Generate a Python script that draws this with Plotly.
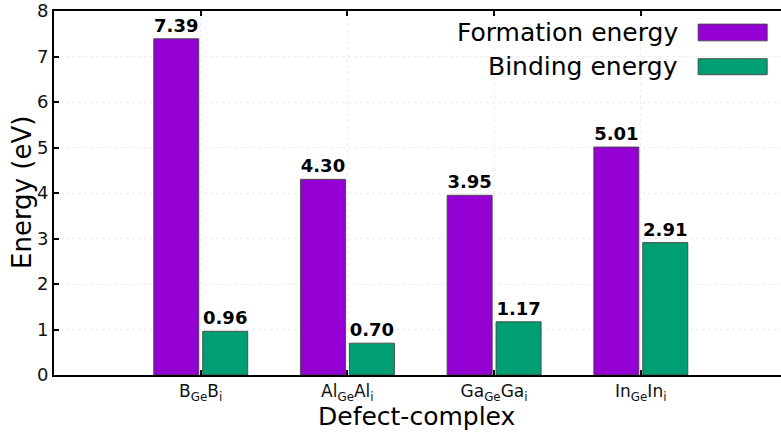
import plotly.graph_objects as go

categories = ["B<sub>Ge</sub>B<sub>i</sub>", "Al<sub>Ge</sub>Al<sub>i</sub>",
              "Ga<sub>Ge</sub>Ga<sub>i</sub>", "In<sub>Ge</sub>In<sub>i</sub>"]
formation_energy = [7.39, 4.30, 3.95, 5.01]
binding_energy = [0.96, 0.70, 1.17, 2.91]
y_ticks = [0, 1, 2, 3, 4, 5, 6, 7, 8]

PURPLE = "#9400D3"
GREEN = "#009E73"
FONT = "DejaVu Sans"

x_pos = list(range(len(categories)))

fig = go.Figure()
fig.add_trace(go.Bar(
    x=x_pos, y=formation_energy, name="Formation energy",
    width=0.307, offset=-0.32,
    marker=dict(color=PURPLE, line=dict(color="rgba(70,70,70,0.9)", width=1)),
    texttemplate="<b>%{y:.2f}</b>", textposition="outside",
    textfont=dict(family=FONT, size=18, color="black"),
    cliponaxis=False,
))
fig.add_trace(go.Bar(
    x=x_pos, y=binding_energy, name="Binding energy",
    width=0.307, offset=0.0136,
    marker=dict(color=GREEN, line=dict(color="rgba(70,70,70,0.9)", width=1)),
    texttemplate="<b>%{y:.2f}</b>", textposition="outside",
    textfont=dict(family=FONT, size=18, color="black"),
    cliponaxis=False,
))

fig.update_layout(
    width=781, height=433,
    margin=dict(l=54, r=0, t=9, b=58),
    paper_bgcolor="white", plot_bgcolor="white",
    showlegend=False,
    font=dict(family=FONT, color="black"),
    xaxis=dict(
        range=[-1, 3.956],
        tickmode="array", tickvals=x_pos, ticktext=categories,
        tickfont=dict(family=FONT, size=17, color="#111"),
        showline=True, linecolor="black", linewidth=2, mirror="ticks",
        ticks="inside", ticklen=5, tickwidth=1.5, tickcolor="black",
        showgrid=True, gridcolor="#ededed", gridwidth=1, griddash="dot",
        zeroline=False, ticklabeloverflow="allow",
    ),
    yaxis=dict(
        range=[0, 8],
        tickmode="array", tickvals=y_ticks,
        tickfont=dict(family=FONT, size=18, color="#111"),
        showline=True, linecolor="black", linewidth=2,
        ticks="inside", ticklen=5, tickwidth=1.5, tickcolor="black",
        showgrid=True, gridcolor="#ededed", gridwidth=1, griddash="dot",
        zeroline=False, ticklabeloverflow="allow",
    ),
)

# axis titles
fig.add_annotation(text="Energy (eV)", xref="paper", yref="paper",
                   x=-0.044, y=0.5, textangle=-90, showarrow=False,
                   xanchor="center", yanchor="middle",
                   font=dict(family=FONT, size=26, color="black"))
fig.add_annotation(text="Defect-complex", xref="paper", yref="paper",
                   x=0.498, y=-0.113, showarrow=False,
                   xanchor="center", yanchor="middle",
                   font=dict(family=FONT, size=25, color="black"))

# legend (text left of swatch, as in the reference)
legend_items = [("Formation energy", PURPLE, 0.940, 0.918, 0.964),
                ("Binding energy", GREEN, 0.847, 0.825, 0.869)]
for label, col, ty, y0, y1 in legend_items:
    fig.add_annotation(text=label, xref="paper", yref="paper",
                       x=0.861, y=ty, showarrow=False,
                       xanchor="right", yanchor="middle",
                       font=dict(family=FONT, size=25, color="black"))
    fig.add_shape(type="rect", xref="paper", yref="paper",
                  x0=0.886, x1=0.981, y0=y0, y1=y1,
                  fillcolor=col, line=dict(color="rgba(70,70,70,0.9)", width=1))

fig.write_html("out.html",
               config={"displayModeBar": False},
               post_script="document.body.style.margin='0';document.body.style.overflow='hidden';")
